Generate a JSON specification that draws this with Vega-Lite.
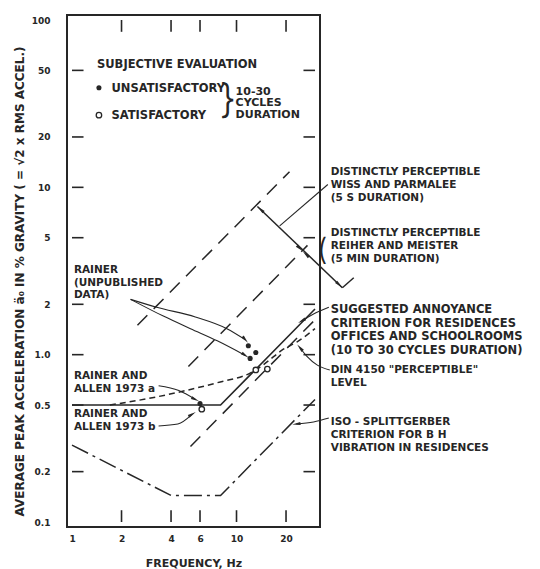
{
  "$schema": "https://vega.github.io/schema/vega-lite/v6.json",
  "width": 253,
  "height": 512,
  "autosize": "none",
  "padding": {"left": 67, "top": 15, "right": 220, "bottom": 42},
  "background": "white",
  "config": {
    "view": {"stroke": "#262626", "strokeWidth": 2},
    "font": "DejaVu Sans",
    "text": {"color": "#262626", "font": "DejaVu Sans", "fontWeight": "bold"}
  },
  "datasets": {
    "sideTicks": [
      {"f": 1, "f2": 1.175, "a": 0.2}, {"f": 1, "f2": 1.175, "a": 0.5},
      {"f": 1, "f2": 1.175, "a": 1}, {"f": 1, "f2": 1.175, "a": 2},
      {"f": 1, "f2": 1.175, "a": 5}, {"f": 1, "f2": 1.175, "a": 10},
      {"f": 1, "f2": 1.175, "a": 20}, {"f": 1, "f2": 1.175, "a": 50},
      {"f": 25.53, "f2": 30, "a": 0.2}, {"f": 25.53, "f2": 30, "a": 0.5},
      {"f": 25.53, "f2": 30, "a": 1}, {"f": 25.53, "f2": 30, "a": 2},
      {"f": 25.53, "f2": 30, "a": 5}, {"f": 25.53, "f2": 30, "a": 10},
      {"f": 25.53, "f2": 30, "a": 20}, {"f": 25.53, "f2": 30, "a": 50}
    ],
    "edgeTicks": [
      {"f": 2, "a": 0.1, "a2": 0.1176}, {"f": 4, "a": 0.1, "a2": 0.1176},
      {"f": 6, "a": 0.1, "a2": 0.1176}, {"f": 10, "a": 0.1, "a2": 0.1176},
      {"f": 20, "a": 0.1, "a2": 0.1176},
      {"f": 2, "a": 85, "a2": 100}, {"f": 4, "a": 85, "a2": 100},
      {"f": 6, "a": 85, "a2": 100}, {"f": 10, "a": 85, "a2": 100},
      {"f": 20, "a": 85, "a2": 100}
    ],
    "criterion": [
      {"f": 1, "a": 0.5}, {"f": 8, "a": 0.5}, {"f": 30, "a": 1.875}
    ],
    "din": [
      {"f": 1.7, "a": 0.5}, {"f": 3.14, "a": 0.555}, {"f": 4.9, "a": 0.61},
      {"f": 7.64, "a": 0.68}, {"f": 12.1, "a": 0.776}, {"f": 13.1, "a": 0.81},
      {"f": 15.8, "a": 0.926}, {"f": 18.8, "a": 1.06}, {"f": 23.6, "a": 1.2},
      {"f": 30, "a": 1.43}
    ],
    "iso": [
      {"f": 1, "a": 0.288}, {"f": 4, "a": 0.144}, {"f": 8, "a": 0.144}, {"f": 30, "a": 0.54}
    ],
    "reference": [
      {"series": "L1", "f": 2.5, "a": 1.5}, {"series": "L1", "f": 21, "a": 12.4},
      {"series": "L2", "f": 5.1, "a": 0.85}, {"series": "L2", "f": 27, "a": 4.5},
      {"series": "L3", "f": 5.25, "a": 0.283}, {"series": "L3", "f": 29.5, "a": 1.59}
    ],
    "range": [
      {"series": "span", "f": 13.4, "a": 7.69}, {"series": "span", "f": 44, "a": 2.51},
      {"series": "stop", "f": 44, "a": 2.51}, {"series": "stop", "f": 51.6, "a": 2.88}
    ],
    "leaders": [
      {"series": "unpub1", "f": 2.27, "a": 2.14}, {"series": "unpub1", "f": 3.27, "a": 1.92},
      {"series": "unpub1", "f": 5.62, "a": 1.68}, {"series": "unpub1", "f": 8.74, "a": 1.43},
      {"series": "unpub1", "f": 11.3, "a": 1.23},
      {"series": "unpub2", "f": 2.27, "a": 2.14}, {"series": "unpub2", "f": 3.59, "a": 1.7},
      {"series": "unpub2", "f": 5.25, "a": 1.43}, {"series": "unpub2", "f": 7.64, "a": 1.21},
      {"series": "unpub2", "f": 11.3, "a": 0.99},
      {"series": "allenA", "f": 3.36, "a": 0.652}, {"series": "allenA", "f": 4.46, "a": 0.61},
      {"series": "allenA", "f": 5.62, "a": 0.54},
      {"series": "allenB", "f": 3.36, "a": 0.375}, {"series": "allenB", "f": 4.4, "a": 0.385},
      {"series": "allenB", "f": 5.38, "a": 0.441},
      {"series": "suggested", "f": 24.9, "a": 1.59}, {"series": "suggested", "f": 29.4, "a": 1.75},
      {"series": "suggested", "f": 36.4, "a": 1.92},
      {"series": "din", "f": 24.3, "a": 1.1}, {"series": "din", "f": 26.8, "a": 0.977},
      {"series": "din", "f": 31.0, "a": 0.866}, {"series": "din", "f": 36.9, "a": 0.81},
      {"series": "iso", "f": 23.1, "a": 0.385}, {"series": "iso", "f": 29.4, "a": 0.396},
      {"series": "iso", "f": 36.4, "a": 0.418},
      {"series": "wiss", "f": 18.3, "a": 5.88}, {"series": "wiss", "f": 35.9, "a": 10.4}
    ],
    "arrowheads": [
      {"f": 14.0, "a": 7.39, "heading": 313},
      {"f": 24.3, "a": 4.31, "heading": 133},
      {"f": 26.4, "a": 3.98, "heading": 313},
      {"f": 42.1, "a": 2.62, "heading": 133},
      {"f": 11.3, "a": 1.23, "heading": 140},
      {"f": 11.3, "a": 0.99, "heading": 125},
      {"f": 5.62, "a": 0.54, "heading": 115},
      {"f": 5.38, "a": 0.441, "heading": 60},
      {"f": 24.9, "a": 1.59, "heading": 240},
      {"f": 24.3, "a": 1.1, "heading": 319},
      {"f": 23.1, "a": 0.385, "heading": 262}
    ],
    "unsatisfactory": [
      {"f": 1.458, "a": 39.4}, {"f": 6.0, "a": 0.51},
      {"f": 11.8, "a": 1.13}, {"f": 13.1, "a": 1.03}, {"f": 12.1, "a": 0.95}
    ],
    "satisfactory": [
      {"f": 1.458, "a": 27.0}, {"f": 6.15, "a": 0.472},
      {"f": 13.1, "a": 0.81}, {"f": 15.4, "a": 0.82}
    ],
    "notes": [
      {"group": "legend", "f": 1.419, "a": 58.2, "text": "SUBJECTIVE EVALUATION"},
      {"group": "legend", "f": 1.737, "a": 42.1, "text": "UNSATISFACTORY"},
      {"group": "legend", "f": 1.737, "a": 28.9, "text": "SATISFACTORY"},
      {"group": "stack", "f": 9.87, "a": 40.5, "text": "10-30\nCYCLES\nDURATION"},
      {"group": "left", "f": 1.027, "a": 3.43, "text": "RAINER\n(UNPUBLISHED\nDATA)"},
      {"group": "left", "f": 1.027, "a": 0.798, "text": "RAINER AND\nALLEN 1973 a"},
      {"group": "left", "f": 1.027, "a": 0.472, "text": "RAINER AND\nALLEN 1973 b"},
      {"group": "side", "f": 37.4, "a": 13.2, "text": "DISTINCTLY PERCEPTIBLE\nWISS AND PARMALEE\n(5 S DURATION)"},
      {"group": "side", "f": 37.4, "a": 5.72, "text": "DISTINCTLY PERCEPTIBLE\nREIHER AND MEISTER\n(5 MIN DURATION)"},
      {"group": "main", "f": 37.4, "a": 2.0, "text": "SUGGESTED ANNOYANCE\nCRITERION FOR RESIDENCES\nOFFICES AND SCHOOLROOMS\n(10 TO 30 CYCLES DURATION)"},
      {"group": "side", "f": 37.4, "a": 0.866, "text": "DIN 4150 \"PERCEPTIBLE\"\nLEVEL"},
      {"group": "side", "f": 37.4, "a": 0.423, "text": "ISO - SPLITTGERBER\nCRITERION FOR B H\nVIBRATION IN RESIDENCES"},
      {"group": "brace", "f": 8.86, "a": 32.6, "text": "}"},
      {"group": "paren", "f": 33.2, "a": 4.19, "text": "("}
    ]
  },
  "encoding": {
    "x": {
      "field": "f", "type": "quantitative",
      "scale": {"type": "log", "domain": [1, 30], "nice": false, "zero": false},
      "axis": {
        "orient": "bottom", "values": [1, 2, 4, 6, 10, 20],
        "domain": false, "grid": false, "ticks": false,
        "labelOverlap": false, "labelFlush": false,
        "labelFont": "DejaVu Sans", "labelFontSize": 9, "labelFontWeight": "bold",
        "labelColor": "#262626", "labelPadding": 7,
        "title": "FREQUENCY, Hz", "titleFont": "DejaVu Sans", "titleFontSize": 11,
        "titleFontWeight": "bold", "titleColor": "#262626",
        "titleY": 36, "titleBaseline": "middle"
      }
    },
    "y": {
      "field": "a", "type": "quantitative",
      "scale": {"type": "log", "domain": [0.1, 100], "nice": false, "zero": false},
      "axis": {
        "orient": "left", "values": [0.1, 0.2, 0.5, 1, 2, 5, 10, 20, 50, 100],
        "labelExpr": "datum.value < 1.5 ? format(datum.value, '.1f') : format(datum.value, 'd')",
        "domain": false, "grid": false, "ticks": false,
        "labelOverlap": false, "labelFlush": false,
        "labelFont": "DejaVu Sans", "labelFontSize": 9, "labelFontWeight": "bold",
        "labelColor": "#262626", "labelPadding": 17,
        "title": "AVERAGE PEAK ACCELERATION ä₀ IN % GRAVITY ( = √2 x RMS ACCEL.)",
        "titleFont": "DejaVu Sans", "titleFontSize": 12, "titleFontWeight": "bold",
        "titleColor": "#262626", "titleX": -48, "titleY": 266,
        "titleBaseline": "middle", "titleAlign": "center"
      }
    }
  },
  "layer": [
    {
      "data": {"name": "sideTicks"},
      "mark": {"type": "bar", "color": "#262626", "size": 1.6, "opacity": 1},
      "encoding": {"x2": {"field": "f2"}}
    },
    {
      "data": {"name": "edgeTicks"},
      "mark": {"type": "bar", "color": "#262626", "size": 1.6, "opacity": 1},
      "encoding": {"y2": {"field": "a2"}}
    },
    {
      "data": {"name": "criterion"},
      "mark": {"type": "line", "color": "#262626", "strokeWidth": 1.6}
    },
    {
      "data": {"name": "din"},
      "mark": {"type": "line", "color": "#262626", "strokeWidth": 1.5, "strokeDash": [6, 4], "interpolate": "monotone"}
    },
    {
      "data": {"name": "iso"},
      "mark": {"type": "line", "color": "#262626", "strokeWidth": 1.5, "strokeDash": [18, 5, 3, 5]}
    },
    {
      "data": {"name": "reference"},
      "mark": {"type": "line", "color": "#262626", "strokeWidth": 1.5, "strokeDash": [14, 9]},
      "encoding": {"detail": {"field": "series"}}
    },
    {
      "data": {"name": "range"},
      "mark": {"type": "line", "color": "#262626", "strokeWidth": 1.5},
      "encoding": {"detail": {"field": "series"}}
    },
    {
      "data": {"name": "leaders"},
      "mark": {"type": "line", "color": "#262626", "strokeWidth": 1.1, "interpolate": "monotone"},
      "encoding": {"detail": {"field": "series"}}
    },
    {
      "data": {"name": "arrowheads"},
      "mark": {"type": "point", "shape": "M0,-1L0.38,1L-0.38,1Z", "filled": true, "color": "#262626", "size": 70, "opacity": 1},
      "encoding": {"angle": {"field": "heading", "type": "quantitative", "scale": null}}
    },
    {
      "data": {"name": "unsatisfactory"},
      "mark": {"type": "point", "shape": "circle", "filled": true, "color": "#262626", "size": 26, "opacity": 1}
    },
    {
      "data": {"name": "satisfactory"},
      "mark": {"type": "point", "shape": "circle", "filled": false, "fill": "white", "fillOpacity": 1, "stroke": "#262626", "strokeWidth": 1.3, "size": 30, "opacity": 1}
    },
    {
      "data": {"name": "notes"},
      "transform": [{"filter": "datum.group === 'legend'"}],
      "mark": {"type": "text", "align": "left", "baseline": "top", "fontSize": 11.5},
      "encoding": {"text": {"field": "text"}}
    },
    {
      "data": {"name": "notes"},
      "transform": [{"filter": "datum.group === 'stack'"}],
      "mark": {"type": "text", "align": "left", "baseline": "top", "fontSize": 11, "lineBreak": "\n", "lineHeight": 11.5},
      "encoding": {"text": {"field": "text"}}
    },
    {
      "data": {"name": "notes"},
      "transform": [{"filter": "datum.group === 'left'"}],
      "mark": {"type": "text", "align": "left", "baseline": "top", "fontSize": 10.5, "lineBreak": "\n", "lineHeight": 12.5},
      "encoding": {"text": {"field": "text"}}
    },
    {
      "data": {"name": "notes"},
      "transform": [{"filter": "datum.group === 'side'"}],
      "mark": {"type": "text", "align": "left", "baseline": "top", "fontSize": 10.5, "lineBreak": "\n", "lineHeight": 13},
      "encoding": {"text": {"field": "text"}}
    },
    {
      "data": {"name": "notes"},
      "transform": [{"filter": "datum.group === 'main'"}],
      "mark": {"type": "text", "align": "left", "baseline": "top", "fontSize": 11.5, "lineBreak": "\n", "lineHeight": 13.5},
      "encoding": {"text": {"field": "text"}}
    },
    {
      "data": {"name": "notes"},
      "transform": [{"filter": "datum.group === 'brace'"}],
      "mark": {"type": "text", "align": "center", "baseline": "middle", "fontSize": 40, "font": "Inter", "fontWeight": 300, "color": "#262626"},
      "encoding": {"text": {"field": "text"}}
    },
    {
      "data": {"name": "notes"},
      "transform": [{"filter": "datum.group === 'paren'"}],
      "mark": {"type": "text", "align": "center", "baseline": "middle", "fontSize": 30, "font": "Inter", "fontWeight": 300, "color": "#262626"},
      "encoding": {"text": {"field": "text"}}
    }
  ]
}
